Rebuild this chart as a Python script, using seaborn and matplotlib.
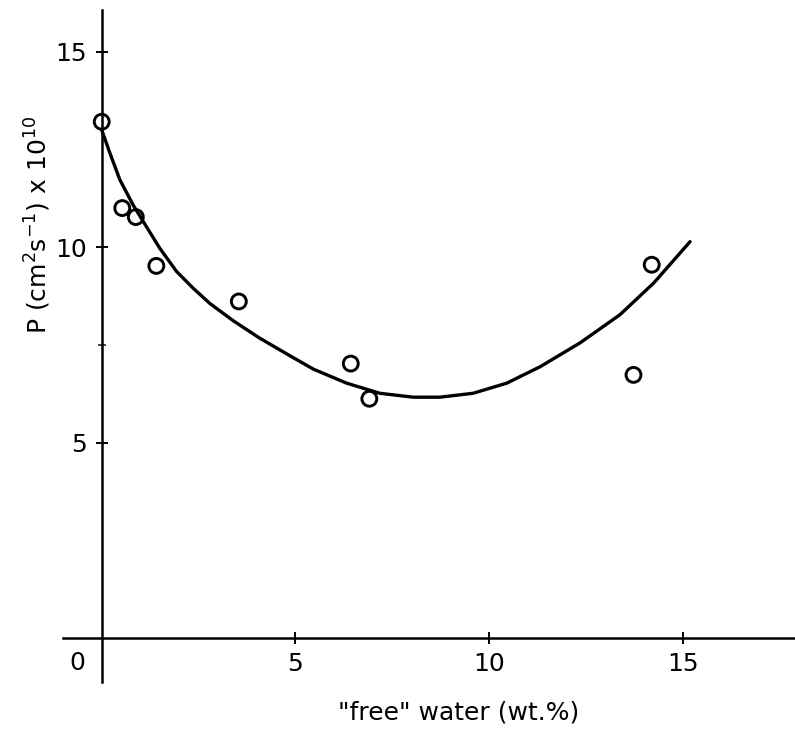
import matplotlib
matplotlib.use("Agg")
import matplotlib.pyplot as plt
import seaborn as sns

sns.set_theme(style="white")
plt.rcParams['font.family'] = ['DejaVu Sans']
plt.rcParams['text.color'] = 'black'

## Data ##

# measured points
water = [0.0, 0.53, 0.88, 1.41, 3.54, 6.43, 6.91, 13.73, 14.20]
perm = [13.21, 11.0, 10.77, 9.52, 8.61, 7.02, 6.12, 6.73, 9.55]

# fitted curve
curve_x = [0.0, 0.21, 0.47, 0.81, 1.15, 1.50, 1.93, 2.36, 2.79, 3.39,
           4.08, 4.86, 5.46, 6.32, 7.18, 8.04, 8.73, 9.59, 10.46, 11.32,
           12.35, 13.38, 14.25, 15.19]
curve_y = [13.0, 12.41, 11.72, 11.08, 10.53, 9.97, 9.38, 8.95, 8.56, 8.12,
           7.67, 7.22, 6.88, 6.52, 6.26, 6.16, 6.16, 6.26, 6.52, 6.94,
           7.55, 8.27, 9.08, 10.14]

x_ticks = [5, 10, 15]
y_ticks = [5, 10, 15]

## Plot ##

fig = plt.figure(figsize=(7.95, 7.35), dpi=100)
ax = fig.add_axes([63/795, 53/735, 732/795, 672/735])

sns.lineplot(x=curve_x, y=curve_y, color="black", linewidth=2.4, ax=ax)
sns.scatterplot(x=water, y=perm, marker="o", s=115, facecolors="none",
                edgecolor="black", linewidth=2.1, ax=ax, zorder=3)

ax.set_xlim(-1.0, 17.9)
ax.set_ylim(-1.13, 16.07)

for side in ["top", "right"]:
    ax.spines[side].set_visible(False)
ax.spines["left"].set_position(("data", 0))
ax.spines["bottom"].set_position(("data", 0))
for side in ["left", "bottom"]:
    ax.spines[side].set_linewidth(1.8)
    ax.spines[side].set_color("black")

ax.set_xticks(x_ticks)
ax.set_yticks(y_ticks)
ax.set_yticks([7.5], minor=True)
ax.tick_params(axis="both", which="major", direction="inout", length=9,
               width=1.4, labelsize=18, pad=6, colors="black",
               bottom=True, left=True)
ax.tick_params(axis="y", which="minor", direction="inout", length=6,
               width=1.2, left=True)

ax.text(-0.62, -0.64, "0", fontsize=18, ha="center", va="center")

ax.text(-0.034, 0.68, r"P (cm$^{2}$s$^{-1}$) x 10$^{10}$", fontsize=18,
        rotation=90, ha="center", va="center", transform=ax.transAxes)
ax.text(0.54, -0.045, '"free" water (wt.%)', fontsize=18,
        ha="center", va="center", transform=ax.transAxes)

plt.savefig("out.png", dpi=100)
